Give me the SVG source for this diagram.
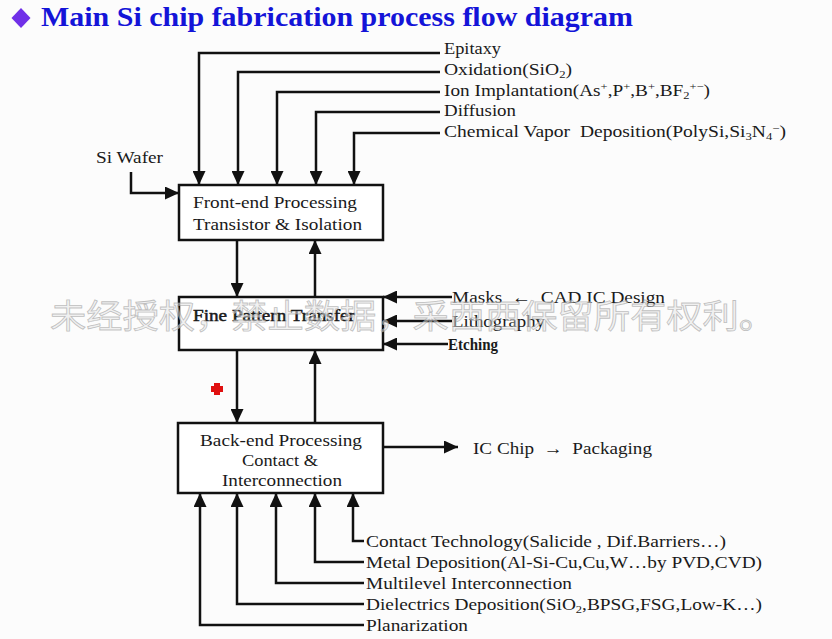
<svg xmlns="http://www.w3.org/2000/svg" width="832" height="639" viewBox="0 0 832 639">
<style>
.t{font-family:"Liberation Serif","Times New Roman",serif;font-size:17px;fill:#1a1a1a}
.box{fill:#ffffff;stroke:#111;stroke-width:2.5}
.c{fill:none;stroke:#111;stroke-width:2.5}
.sub{font-size:11px}
</style>
<defs>
<marker id="ah" markerUnits="userSpaceOnUse" markerWidth="15" markerHeight="13" refX="14" refY="6.5" orient="auto" viewBox="0 0 15 13">
<path d="M0,0 L14,6.5 L0,13 z" fill="#111"/>
</marker>
</defs>
<rect width="832" height="639" fill="#fcfcfc"/>

<g id="title">
<path d="M21,8 L30.5,18 L21,28 L11.5,18 z" fill="#7030e8"/>
<text x="41" y="26" font-family="Liberation Serif,'Times New Roman',serif" font-size="27" font-weight="bold" fill="#1414d8" textLength="592" lengthAdjust="spacingAndGlyphs">Main Si chip fabrication process flow diagram</text>
</g>

<g id="connectors">
<path class="c" d="M440 53 H199 V185" marker-end="url(#ah)"/>
<path class="c" d="M440 72 H238 V185" marker-end="url(#ah)"/>
<path class="c" d="M440 92 H277 V185" marker-end="url(#ah)"/>
<path class="c" d="M440 112 H316 V185" marker-end="url(#ah)"/>
<path class="c" d="M440 133 H354 V185" marker-end="url(#ah)"/>
<path class="c" d="M131 172 V193 H179" marker-end="url(#ah)"/>
<path class="c" d="M237 240 V297" marker-end="url(#ah)"/>
<path class="c" d="M315 297 V240" marker-end="url(#ah)"/>
<path class="c" d="M452 297 H383" marker-end="url(#ah)"/>
<path class="c" d="M452 321 H383" marker-end="url(#ah)"/>
<path class="c" d="M448 344 H383" marker-end="url(#ah)"/>
<path class="c" d="M237 350 V423" marker-end="url(#ah)"/>
<path class="c" d="M315 423 V350" marker-end="url(#ah)"/>
<path class="c" d="M383 447 H458" marker-end="url(#ah)"/>
<path class="c" d="M364 541 H353 V493" marker-end="url(#ah)"/>
<path class="c" d="M364 562 H315 V493" marker-end="url(#ah)"/>
<path class="c" d="M364 583 H276 V493" marker-end="url(#ah)"/>
<path class="c" d="M364 604 H237 V493" marker-end="url(#ah)"/>
<path class="c" d="M364 625 H200 V493" marker-end="url(#ah)"/>
</g>

<g id="epitaxy"><text class="t" x="444" y="54" textLength="57" lengthAdjust="spacingAndGlyphs">Epitaxy</text></g>
<g id="oxidation"><text class="t" x="444" y="75" textLength="128" lengthAdjust="spacingAndGlyphs">Oxidation(SiO<tspan class="sub" dy="3">2</tspan><tspan dy="-3">)</tspan></text></g>
<g id="ion-implantation"><text class="t" x="444" y="96" textLength="266" lengthAdjust="spacingAndGlyphs">Ion Implantation(As<tspan class="sub" dy="-6">+</tspan><tspan dy="6">,P</tspan><tspan class="sub" dy="-6">+</tspan><tspan dy="6">,B</tspan><tspan class="sub" dy="-6">+</tspan><tspan dy="6">,BF</tspan><tspan class="sub" dy="3">2</tspan><tspan class="sub" dy="-9">+−</tspan><tspan dy="6">)</tspan></text></g>
<g id="diffusion"><text class="t" x="444" y="116" textLength="72" lengthAdjust="spacingAndGlyphs">Diffusion</text></g>
<g id="cvd"><text class="t" x="444" y="137" xml:space="preserve" textLength="342" lengthAdjust="spacingAndGlyphs">Chemical Vapor  Deposition(PolySi,Si<tspan class="sub" dy="3">3</tspan><tspan dy="-3">N</tspan><tspan class="sub" dy="3">4</tspan><tspan class="sub" dy="-8">−</tspan><tspan dy="5">)</tspan></text></g>

<g id="si-wafer"><text class="t" x="96" y="163" textLength="67" lengthAdjust="spacingAndGlyphs">Si Wafer</text></g>

<g id="front-end">
<rect class="box" x="179" y="185" width="204" height="55"/>
<text class="t" x="193" y="208" textLength="164" lengthAdjust="spacingAndGlyphs">Front-end Processing</text>
<text class="t" x="193" y="230" textLength="169" lengthAdjust="spacingAndGlyphs">Transistor &amp; Isolation</text>
</g>

<g id="fine-pattern">
<rect class="box" x="179" y="297" width="204" height="53"/>
<text class="t" x="193" y="321" stroke="#1a1a1a" stroke-width="0.5" textLength="162" lengthAdjust="spacingAndGlyphs">Fine Pattern Transfer</text>
</g>

<g id="masks"><text class="t" x="452" y="303" xml:space="preserve" textLength="213" lengthAdjust="spacingAndGlyphs">Masks  ←  CAD IC Design</text></g>
<g id="lithography"><text class="t" x="452" y="327" textLength="93" lengthAdjust="spacingAndGlyphs">Lithography</text></g>
<g id="etching"><text class="t" x="448" y="350" font-size="15" font-weight="bold" textLength="50" lengthAdjust="spacingAndGlyphs">Etching</text></g>

<g id="back-end">
<rect class="box" x="178" y="423" width="205" height="70"/>
<text class="t" x="200" y="446" textLength="162" lengthAdjust="spacingAndGlyphs">Back-end Processing</text>
<text class="t" x="242" y="466" textLength="76" lengthAdjust="spacingAndGlyphs">Contact &amp;</text>
<text class="t" x="222" y="486" textLength="120" lengthAdjust="spacingAndGlyphs">Interconnection</text>
</g>

<g id="ic-chip"><text class="t" x="473" y="454" xml:space="preserve" textLength="179" lengthAdjust="spacingAndGlyphs">IC Chip  →  Packaging</text></g>

<g id="contact-technology"><text class="t" x="366" y="547" textLength="360" lengthAdjust="spacingAndGlyphs">Contact Technology(Salicide , Dif.Barriers…)</text></g>
<g id="metal-deposition"><text class="t" x="366" y="568" textLength="396" lengthAdjust="spacingAndGlyphs">Metal Deposition(Al-Si-Cu,Cu,W…by PVD,CVD)</text></g>
<g id="multilevel"><text class="t" x="366" y="589" textLength="206" lengthAdjust="spacingAndGlyphs">Multilevel Interconnection</text></g>
<g id="dielectrics"><text class="t" x="366" y="610" textLength="396" lengthAdjust="spacingAndGlyphs">Dielectrics Deposition(SiO<tspan class="sub" dy="3">2</tspan><tspan dy="-3">,BPSG,FSG,Low-K…)</tspan></text></g>
<g id="planarization"><text class="t" x="366" y="631" textLength="102" lengthAdjust="spacingAndGlyphs">Planarization</text></g>

<path d="M214 383 h6 v3 h3 v6 h-3 v3 h-6 v-3 h-3 v-6 h3 z" fill="#e01010"/>

<text x="50" y="328" font-family="'Noto Sans CJK SC',sans-serif" font-size="33" fill="#e6e6e6" fill-opacity="0.55" stroke="#9a9a9a" stroke-opacity="0.6" stroke-width="0.8" textLength="725" lengthAdjust="spacingAndGlyphs">未经授权，禁止数据，采西西保留所有权利。</text>
</svg>
